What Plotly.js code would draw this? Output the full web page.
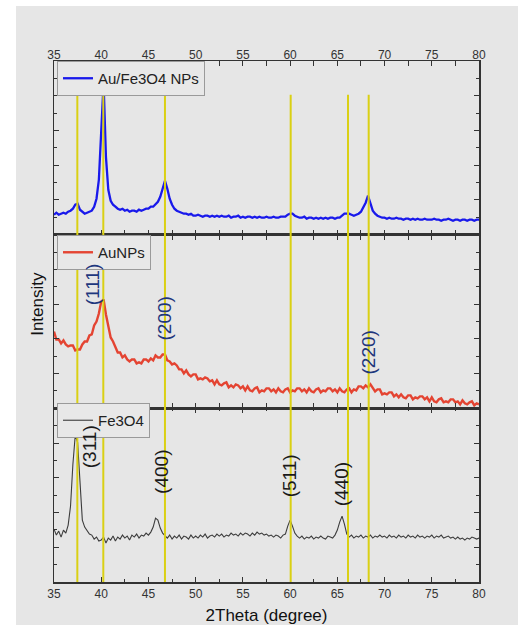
<!DOCTYPE html>
<html>
<head>
<meta charset="utf-8">
<script src="https://cdn.plot.ly/plotly-3.0.1.min.js"></script>
<style>html,body{margin:0;padding:0;background:#fff;}#chart{width:524px;height:625px;}</style>
</head>
<body>
<div id="chart"></div>
<script>
// 2Theta grid: start 35, step 0.25 degree (181 samples, 35..80)
const thetaStart = 35;
const thetaStep = 0.25;

// Au/Fe3O4 NPs (top panel intensity, arb. units)
const auFe3o4 = [
  20,22,20,21,22,21,23,24,26,30,
  31,25,23,21,22,23,24,28,36,55,
  112,152,78,45,34,30,28,26,25,26,
  24,25,23,24,24,23,25,24,25,26,
  26,28,28,31,33,38,47,54,46,36,
  30,26,24,23,22,21,21,20,21,19,
  19,20,19,18,19,19,18,19,18,19,
  18,19,18,18,19,17,18,18,19,17,
  18,17,18,18,17,18,17,18,17,17,
  18,17,17,18,17,17,18,18,18,20,
  21,21,19,18,17,17,18,16,17,17,
  16,17,16,17,16,17,16,17,17,16,
  17,17,19,21,21,21,20,19,20,21,
  23,27,32,39,31,24,21,19,18,17,
  17,16,17,16,16,17,16,16,15,16,
  16,15,16,15,16,15,15,16,15,15,
  15,16,15,15,14,15,15,16,15,14,
  15,15,14,15,15,14,15,15,14,15,
  15
];

// AuNPs (middle panel intensity, arb. units)
const auNPs = [
  77,69,69,65,68,64,62,63,63,58,
  59,59,64,67,67,73,74,83,87,95,
  107,109,94,82,71,67,62,56,56,51,
  53,49,47,49,49,45,46,45,49,49,
  47,50,48,53,51,51,54,54,48,47,
  44,45,43,39,39,35,38,34,32,34,
  34,29,30,29,31,30,27,28,24,28,
  24,23,25,26,21,23,21,24,23,20,
  22,18,22,18,17,20,21,16,18,17,
  20,20,17,19,16,20,17,16,19,20,
  16,18,17,20,20,17,19,16,20,17,
  16,19,20,16,18,17,20,20,17,19,
  16,20,17,16,19,20,16,19,18,22,
  22,20,23,21,24,20,17,19,19,14,
  15,14,16,16,12,14,11,14,11,10,
  13,13,9,11,10,12,12,9,11,7,
  11,7,6,9,10,6,7,6,9,9,
  6,7,4,8,5,4,6,7,3,5,
  4
];

// Fe3O4 (bottom panel intensity, arb. units)
const fe3o4 = [
  53,47,51,45,52,49,57,76,118,147,
  140,95,62,55,51,48,47,43,45,41,
  42,45,39,44,42,46,41,45,43,47,
  44,46,42,47,45,48,44,47,46,49,
  47,50,55,64,62,54,49,46,44,47,
  43,46,44,47,43,46,45,43,47,44,
  46,44,47,45,48,44,46,47,45,48,
  46,48,45,47,46,49,47,48,46,49,
  47,49,48,46,49,47,50,48,49,47,
  48,46,47,45,47,46,44,47,48,56,
  62,56,49,46,44,46,43,45,44,46,
  43,45,44,46,44,43,46,45,44,47,
  52,60,66,58,48,45,47,44,46,45,
  47,44,46,45,47,44,46,45,47,45,
  46,44,47,45,46,44,47,45,46,44,
  47,45,46,44,47,45,46,44,46,45,
  47,44,46,45,47,44,45,46,44,45,
  43,45,43,44,42,44,43,45,44,43,
  44
];

const seriesNames = ["Au/Fe3O4 NPs", "AuNPs", "Fe3O4"];

// reference peak positions (yellow lines), 2Theta
const peakLines = [37.47, 40.22, 46.75, 60.06, 66.13, 68.32];

// hkl labels
const auLabels = ["(111)", "(200)", "(220)"];
const auLabelX = [39.1, 46.75, 68.25];
const auLabelY = [124, 90, 56];
const feLabels = ["(311)", "(400)", "(511)", "(440)"];
const feLabelX = [38.7, 46.4, 59.9, 65.4];
const feLabelY = [136, 110, 106, 98];

const xTicks = [35, 40, 45, 50, 55, 60, 65, 70, 75, 80];

const FONT = "Liberation Sans, Arial, Helvetica, sans-serif";
const BG = "#e6e6e6";
const AX = "#333333";

const traces = [
  {x0: thetaStart, dx: thetaStep, y: auFe3o4, type: "scatter", mode: "lines", name: seriesNames[0],
   xaxis: "x", yaxis: "y", legend: "legend", line: {color: "rgb(25,25,235)", width: 2.3}},
  {x0: thetaStart, dx: thetaStep, y: auNPs, type: "scatter", mode: "lines", name: seriesNames[1],
   xaxis: "x", yaxis: "y2", legend: "legend2", opacity: 0.88, line: {color: "rgb(228,45,25)", width: 2.4}},
  {x0: thetaStart, dx: thetaStep, y: fe3o4, type: "scatter", mode: "lines", name: seriesNames[2],
   xaxis: "x", yaxis: "y3", legend: "legend3", line: {color: "#3c3c3c", width: 1.1}},
  {x: [35, 80], y: [0, 0], xaxis: "x2", yaxis: "y", mode: "lines", showlegend: false,
   hoverinfo: "skip", line: {width: 0, color: "rgba(0,0,0,0)"}}
];

const yBase = {
  range: [0, 174], showticklabels: false, ticks: "inside", tick0: 0, dtick: 34.8,
  ticklen: 5, tickwidth: 1, tickcolor: AX,
  minor: {ticks: "inside", dtick: 17.4, ticklen: 3, tickcolor: AX, showgrid: false},
  showline: true, linecolor: AX, linewidth: 1.5, mirror: "ticks",
  showgrid: false, zeroline: false, anchor: "x", fixedrange: true
};

const shapes = [
  {type: "rect", xref: "paper", yref: "paper", x0: -0.0894, x1: 1.0918, y0: -0.0825, y1: 1.1056,
   fillcolor: BG, line: {width: 0}, layer: "below"}
];
peakLines.forEach(p => shapes.push({
  type: "line", xref: "x", yref: "paper", x0: p, x1: p, y0: 0, y1: 0.935,
  line: {color: "rgb(218,208,20)", width: 2}, layer: "above"
}));

const annotations = [];
auLabels.forEach((t, i) => annotations.push({
  text: t, x: auLabelX[i], y: auLabelY[i], xref: "x", yref: "y2", showarrow: false,
  textangle: -90, font: {family: FONT, size: 19, color: "rgb(30,55,125)"}
}));
feLabels.forEach((t, i) => annotations.push({
  text: t, x: feLabelX[i], y: feLabelY[i], xref: "x", yref: "y3", showarrow: false,
  textangle: -90, font: {family: FONT, size: 19, color: "#1a1a1a"}
}));
annotations.push({
  text: "Intensity", xref: "paper", yref: "paper", x: -0.0376, y: 0.534, showarrow: false,
  xanchor: "center", yanchor: "middle",
  textangle: -90, font: {family: FONT, size: 17, color: "#111"}
});

const legendBase = {
  x: 0.007, xanchor: "left", yanchor: "top", bgcolor: "#e8e8e8",
  bordercolor: "#9a9a9a", borderwidth: 1, font: {family: FONT, size: 15, color: "#222"},
  tracegroupgap: 0
};

const layout = {
  width: 524, height: 625,
  margin: {l: 54, r: 45, t: 61, b: 43},
  paper_bgcolor: "#ffffff", plot_bgcolor: BG,
  font: {family: FONT, color: AX},
  showlegend: true,
  xaxis: {
    range: [35, 80], domain: [0, 1], anchor: "y3",
    tickvals: xTicks, ticks: "inside", ticklen: 5, tickwidth: 1, tickcolor: AX,
    minor: {ticks: "inside", dtick: 2.5, tick0: 35, ticklen: 3, tickcolor: AX, showgrid: false},
    showline: true, linecolor: AX, linewidth: 1.5, mirror: "allticks",
    showgrid: false, zeroline: false, tickfont: {family: FONT, size: 12, color: "#333"},
    title: {text: "2Theta (degree)", font: {family: FONT, size: 17, color: "#111"}, standoff: 10},
    fixedrange: true
  },
  xaxis2: {
    range: [35, 80], overlaying: "x", side: "top", anchor: "free", position: 1,
    tickvals: xTicks, ticks: "", showline: false, showgrid: false, zeroline: false,
    tickfont: {family: FONT, size: 12, color: "#333"}, fixedrange: true
  },
  yaxis: Object.assign({}, yBase, {domain: [2/3, 1]}),
  yaxis2: Object.assign({}, yBase, {domain: [1/3, 2/3]}),
  yaxis3: Object.assign({}, yBase, {domain: [0, 1/3]}),
  legend: Object.assign({}, legendBase, {y: 1.0}),
  legend2: Object.assign({}, legendBase, {y: 0.666}),
  legend3: Object.assign({}, legendBase, {y: 0.3436}),
  shapes: shapes,
  annotations: annotations
};

Plotly.newPlot("chart", traces, layout, {displayModeBar: false, staticPlot: true});
</script>
</body>
</html>
